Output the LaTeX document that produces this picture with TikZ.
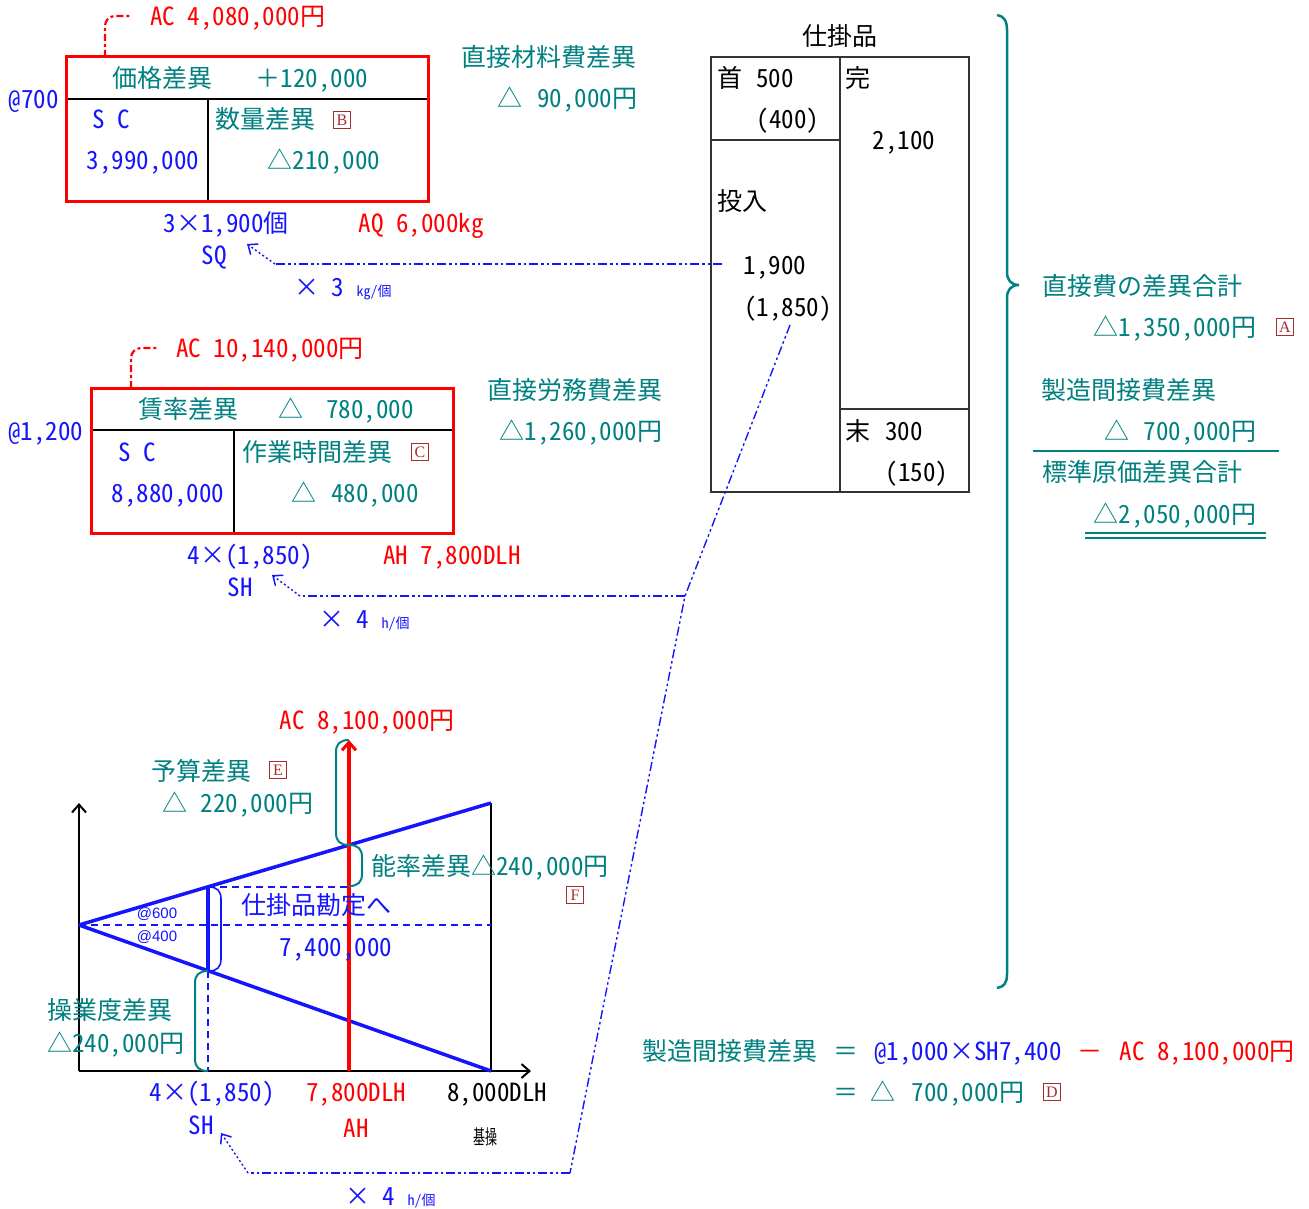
\documentclass[tikz,border=0pt]{standalone}
\usepackage{fontspec}
\setmainfont{Noto Sans CJK JP}[RawFeature=+hwid]
\newfontfamily\cjkfw{Noto Sans CJK JP}
\newfontfamily\latinsans{Liberation Sans}
\newfontfamily\latinserif{Liberation Serif}
\newcommand\smtxt{\fontsize{14}{14}\selectfont}
\usetikzlibrary{arrows.meta}
\definecolor{tl}{RGB}{0,128,128}
\definecolor{bl}{RGB}{20,20,255}
\definecolor{rd}{RGB}{255,0,0}
\definecolor{bx}{RGB}{165,45,45}
\definecolor{tk}{RGB}{51,51,51}
\tikzset{
 txt/.style={inner sep=0pt, font=\fontsize{25}{25}\selectfont, text height=22pt, text depth=4pt},
 tt/.style={txt,text=tl}, bt/.style={txt,text=bl}, rt/.style={txt,text=rd}, kt/.style={txt,text=black},
 smallsans/.style={inner sep=0pt, text=bl, font=\latinsans\fontsize{15}{15}\selectfont},
 lbox/.style={draw=bx, text=bx, line width=1.3pt, inner sep=0pt, minimum size=17pt, font=\latinserif\fontsize{16}{16}\selectfont},
 redbox/.style={draw=rd, line width=3pt},
 gridline/.style={draw=black, line width=2pt},
 tacc/.style={draw=tk, line width=2.5pt},
 acline/.style={draw=rd, line width=2.2pt, dash pattern=on 7pt off 3pt on 3pt off 3pt, rounded corners=10pt},
 ddline/.style={draw=bl, line width=1.8pt, dash pattern=on 9pt off 3pt on 2.5pt off 3pt on 2.5pt off 3pt},
 ptr/.style={draw=bl, line width=1.4pt, dash pattern=on 2pt off 2.5pt, -{Straight Barb[length=8pt,width=13pt,line width=1.5pt]}},
 bluethick/.style={draw=bl, line width=3.5pt},
 bluedash/.style={draw=bl, line width=2pt, dash pattern=on 7pt off 5pt},
 tbrace/.style={draw=tl, line width=2pt},
 axis/.style={draw=black, line width=2pt, -{Straight Barb[length=8pt,width=14pt,line width=2pt]}}
}
\begin{document}
\begin{tikzpicture}[x=1pt,y=-1pt]
\useasboundingbox (0,0) rectangle (1309,1209);

% ===== Direct material box =====
\draw[gridline] (66,99) -- (428,99);
\draw[gridline] (208,99) -- (208,202);
\draw[redbox] (66,57) rectangle (428,202);
\node[tt] (mp) at (162,79) {価格差異};
\node[tt] (mpv) at (312,79) {{\cjkfw ＋}120,000};
\node[bt] (msc) at (111,120) {S\hspace{12pt}C};
\node[bt] (mscv) at (143,161) {3,990,000};
\node[tt] (mq) at (265,120) {数量差異};
\node[lbox] (lb) at (342,120) {B};
\node[tt] (mqv) at (324,161) {△210,000};
\node[bt] (mat) at (34,100) {@700};
\coordinate (mac0) at (105,57);
\coordinate (mac1) at (131,16);
\draw[acline] (mac0) |- (mac1);
\node[rt, anchor=west] (mac) at (150,17) {AC 4,080,000円};
\node[bt] (msq1) at (226,224) {3×1,900個};
\node[rt] (maq) at (421,224) {AQ 6,000kg};
\node[bt] (msq) at (214,256) {SQ};
\node[bt, anchor=west] (mrate) at (294,287) {× 3 {\smtxt kg/個}};
\node[tt] (mt) at (549,58) {直接材料費差異};
\node[tt] (mtd) at (510,99) {△};
\node[tt] (mtv) at (587,99) {90,000円};

% ===== Direct labor box =====
\draw[gridline] (91,430) -- (453,430);
\draw[gridline] (234,430) -- (234,533);
\draw[redbox] (91,388) rectangle (453,533);
\node[tt] (lr) at (188,409) {賃率差異};
\node[tt] (lrd) at (291,409) {△};
\node[tt] (lrv) at (370,409) {780,000};
\node[bt] (lsc) at (137,452) {S\hspace{12pt}C};
\node[bt] (lscv) at (168,493) {8,880,000};
\node[tt] (lt) at (317,452) {作業時間差異};
\node[lbox] (lc) at (420,452) {C};
\node[tt] (ltd) at (304,493) {△};
\node[tt] (ltv) at (375,493) {480,000};
\node[bt] (lat) at (46,431) {@1,200};
\coordinate (lac0) at (131,388);
\coordinate (lac1) at (157,348);
\draw[acline] (lac0) |- (lac1);
\node[rt] (lac) at (270,348) {AC 10,140,000円};
\node[bt] (lsh1) at (250,555) {4×(1,850)};
\node[rt] (lah) at (452,555) {AH 7,800DLH};
\node[bt] (lsh) at (240,587) {SH};
\node[bt, anchor=west] (lrate) at (319,619) {× 4 {\smtxt h/個}};
\node[tt] (ltt) at (575,390) {直接労務費差異};
\node[tt] (lttv) at (581,431) {△1,260,000円};

% ===== WIP T-account =====
\node[kt] (wt) at (840,37) {仕掛品};
\draw[tacc] (711,140) -- (840,140);
\draw[tacc] (840,409) -- (969,409);
\draw[tacc] (840,57) -- (840,492);
\draw[tacc] (711,57) rectangle (969,492);
\node[kt] (wb1) at (730,79) {首};
\node[kt] (wb2) at (775,79) {500};
\node[kt] (wb3) at (788,120) {(400)};
\node[kt] (wc1) at (858,79) {完};
\node[kt] (wc2) at (904,141) {2,100};
\node[kt] (wi1) at (742,202) {投入};
\node[kt] (wi2) at (775,265) {1,900};
\node[kt] (wi3) at (788,307) {(1,850)};
\node[kt] (we1) at (858,431) {末};
\node[kt] (we2) at (904,431) {300};
\node[kt] (we3) at (917,472) {(150)};

% ===== connectors =====
\coordinate (c1a) at (722,264);
\coordinate (c1b) at (275,264);
\coordinate (c1t) at (247,244);
\draw[ddline] (c1a) -- (c1b);
\draw[ptr] (c1b) -- (c1t);

\coordinate (c2s) at (790,325);
\coordinate (c2k) at (685,596);
\coordinate (c2b) at (300,596);
\coordinate (c2t) at (272,575);
\coordinate (c3k) at (570,1173);
\coordinate (c3b) at (248,1173);
\coordinate (c3t) at (221,1133);
\draw[ddline, line width=1.4pt] (c2s) -- (c2k) -- (c3k);
\draw[ddline] (c3k) -- (c3b);
\draw[ddline] (c2k) -- (c2b);
\draw[ptr] (c2b) -- (c2t);
\draw[ptr] (c3b) -- (c3t);

% ===== big brace and totals =====
\draw[draw=tl, line width=2.5pt] (997,15) .. controls (1004,16) and (1007,21) .. (1007,30) -- (1007,272) .. controls (1007,280) and (1011,285) .. (1019,285) .. controls (1011,285) and (1007,290) .. (1007,298) -- (1007,974) .. controls (1007,983) and (1004,987) .. (997,988);
\node[tt] (r1) at (1142,286) {直接費の差異合計};
\node[tt] (r1v) at (1175,327) {△1,350,000円};
\node[lbox] (la) at (1285,327) {A};
\node[tt] (r2) at (1129,390) {製造間接費差異};
\node[tt] (r2d) at (1117,431) {△};
\node[tt] (r2v) at (1200,431) {700,000円};
\draw[draw=tl, line width=2pt] (1033,451) -- (1279,451);
\node[tt] (r3) at (1142,472) {標準原価差異合計};
\node[tt] (r3v) at (1175,514) {△2,050,000円};
\draw[draw=tl, line width=2pt] (1085,533) -- (1266,533);
\draw[draw=tl, line width=2pt] (1085,537.5) -- (1266,537.5);

% ===== overhead chart =====
\draw[axis] (79,1071) -- (79,803);
\draw[axis] (79,1071) -- (531,1071);
\draw[gridline] (491,803) -- (491,1071);
\draw[bluedash] (79,925) -- (491,925);
\draw[bluedash] (208,887) -- (349,887);
\draw[bluedash] (208,971) -- (208,1071);
\draw[bluethick] (79,925) -- (491,803);
\draw[bluethick] (79,925) -- (491,1071);
\draw[bluethick] (208,887) -- (208,971);
\draw[draw=rd, line width=3.5pt, -{Straight Barb[length=8pt,width=14pt,line width=3pt]}] (349,1071) -- (349,740);
\draw[draw=bl, line width=1.6pt] (209,887) .. controls (217,887) and (221,891) .. (221,899) -- (221,959) .. controls (221,967) and (217,971) .. (209,971);
\draw[tbrace] (349,740) .. controls (340,740) and (336,744) .. (336,752) -- (336,833) .. controls (336,841) and (340,845) .. (349,845);
\draw[tbrace] (349,845) .. controls (358,845) and (362,849) .. (362,857) -- (362,874) .. controls (362,882) and (358,886) .. (349,886);
\draw[tbrace] (208,971) .. controls (199,971) and (195,975) .. (195,983) -- (195,1059) .. controls (195,1067) and (199,1071) .. (208,1071);

\node[rt] (oac) at (367,720) {AC 8,100,000円};
\node[tt] (ob) at (201,771) {予算差異};
\node[lbox] (le) at (278,770) {E};
\node[tt] (obd) at (175,803) {△};
\node[tt] (obv) at (257,803) {220,000円};
\node[tt] (oe) at (490,866) {能率差異△240,000円};
\node[lbox] (lf) at (575,895) {F};
\node[bt] (ow) at (316,905) {仕掛品勘定へ};
\node[bt] (owv) at (336,947) {7,400,000};
\node[smallsans] (o600) at (157,914) {@600};
\node[smallsans] (o400) at (157,937) {@400};
\node[tt] (ov) at (110,1010) {操業度差異};
\node[tt] (ovv) at (116,1043) {△240,000円};
\node[bt] (osh1) at (212,1092) {4×(1,850)};
\node[rt] (oah1) at (356,1092) {7,800DLH};
\node[kt] (obase1) at (497,1092) {8,000DLH};
\node[bt] (osh) at (201,1125) {SH};
\node[rt] (oah) at (356,1128) {AH};
\node[kt, font=\fontsize{20}{20}\selectfont] (obase) at (485,1135) {\scalebox{0.6}[1]{基操}};
\node[bt, anchor=west] (orate) at (345,1196) {× 4 {\smtxt h/個}};

% ===== formula =====
\node[tt] (f1) at (730,1051) {製造間接費差異};
\node[tt] (f2) at (846,1051) {\cjkfw ＝};
\node[bt] (f3) at (968,1051) {@1,000×SH7,400};
\node[rt] (f4) at (1090,1051) {\cjkfw －};
\node[rt] (f5) at (1207,1051) {AC 8,100,000円};
\node[tt] (f6) at (846,1092) {\cjkfw ＝};
\node[tt] (f7) at (883,1092) {△};
\node[tt] (f8) at (968,1092) {700,000円};
\node[lbox] (ld) at (1052,1092) {D};
\end{tikzpicture}
\end{document}
